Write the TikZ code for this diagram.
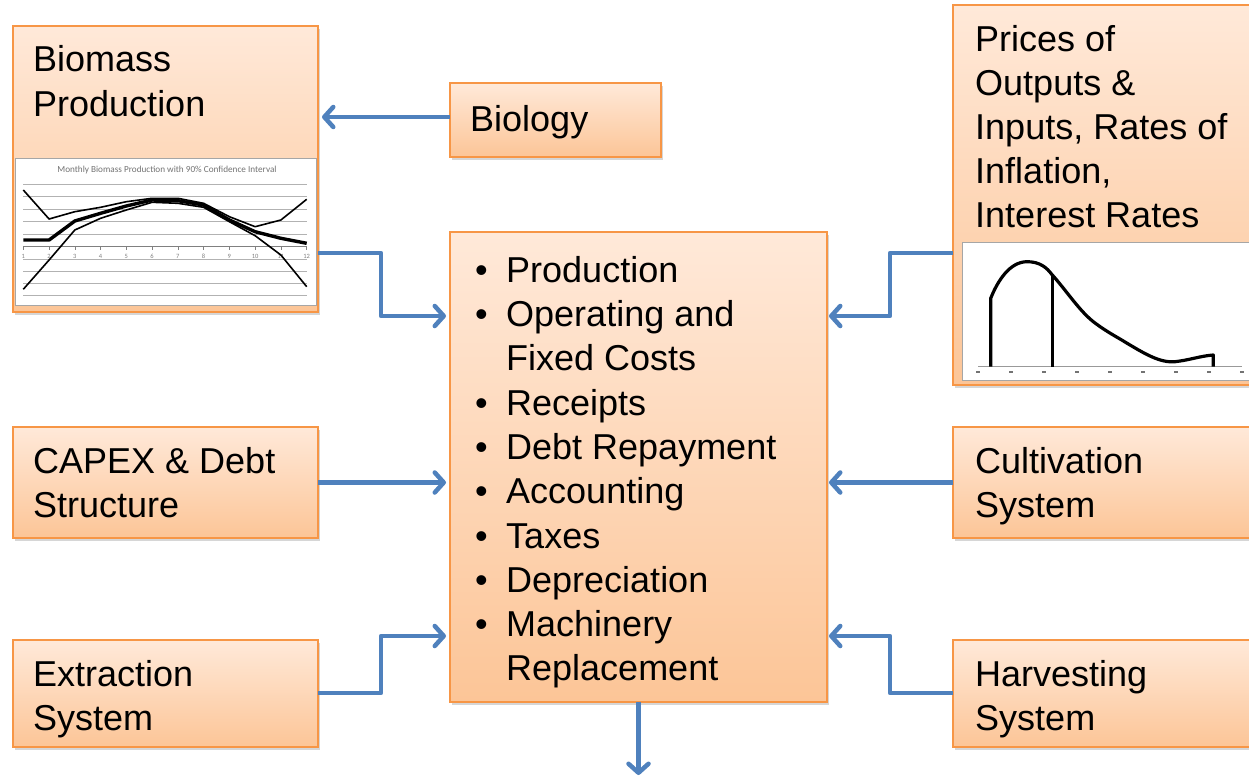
\documentclass[tikz,border=0pt]{standalone}
\usepackage{fontspec}
\setmainfont{Liberation Sans}
\newfontfamily\chartfont{Carlito}
\usetikzlibrary{arrows.meta,shadows}
\definecolor{boxtop}{HTML}{FFE9D9}
\definecolor{boxbot}{HTML}{FCC597}
\definecolor{boxline}{HTML}{F79646}
\definecolor{connc}{HTML}{4F81BD}
\begin{document}
\begin{tikzpicture}[x=1pt,y=-1pt,
  box/.style={draw=boxline,line width=1.5pt,top color=boxtop,bottom color=boxbot,
    inner sep=0pt,outer sep=0pt,
    drop shadow={shadow xshift=2pt,shadow yshift=-3pt,opacity=0.35,fill=black!45}},
  lbl/.style={anchor=base west,inner sep=0pt,font=\fontsize{36}{44}\selectfont},
  conn/.style={draw=connc,line width=4.5pt,line join=round,
    -{Straight Barb[length=9pt,width=20pt,round]}},
  grid/.style={draw=black!30,line width=0.7pt},
  tiny/.style={font=\chartfont\fontsize{6.5}{7}\selectfont,text=black!50,inner sep=0pt}
]
\useasboundingbox (0,0) rectangle (1249,779);
\fill[white] (0,0) rectangle (1249,779);

% boxes
\node[box,minimum width=305pt,minimum height=286pt] (bm) at (165.5,169) {};
\node[box,minimum width=211pt,minimum height=74pt] (bio) at (555.5,120) {};
\node[box,minimum width=312pt,minimum height=380pt] (pr) at (1109,195) {};
\node[box,minimum width=377pt,minimum height=470pt] (ctr) at (638.5,467) {};
\node[box,minimum width=305pt,minimum height=111pt] (cap) at (165.5,482.5) {};
\node[box,minimum width=312pt,minimum height=111pt] (cul) at (1109,482.5) {};
\node[box,minimum width=305pt,minimum height=107pt] (ext) at (165.5,693.5) {};
\node[box,minimum width=312pt,minimum height=107pt] (har) at (1109,693.5) {};

% biomass chart
\fill[white,draw=black!35,line width=0.8pt] (15,158) rectangle (316,305);
\node[tiny,font=\chartfont\fontsize{9.2}{10}\selectfont,text=black!55] (bmt) at (167,170) {Monthly Biomass Production with 90\% Confidence Interval};
\foreach \yy in {184.3,196.7,209.3,221.7,234,259,271,283.3,295.7}
  \draw[grid] (23.3,\yy) -- (306.7,\yy);
\draw[draw=black!50,line width=0.8pt] (23.3,246.7) -- (306.7,246.7);
\foreach \i in {1,...,12}{
  \draw[draw=black!50,line width=0.6pt] ({23.3+(\i-1)*25.76},246.7) -- ++(0,3);
  \node[tiny] at ({23.3+(\i-1)*25.76},256) {\i};
}
\draw[line width=1.6pt,line join=round] (23.3,190) -- (49.1,219) -- (74.8,211.7) -- (100.6,207.3) -- (126.3,201.7) -- (152.1,198.3) -- (177.9,198.3) -- (203.6,203.3) -- (229.4,216.7) -- (255.1,226.7) -- (280.9,220) -- (306.7,199.3);
\draw[line width=1.6pt,line join=round] (23.3,289.3) -- (49.1,260) -- (74.8,230) -- (100.6,218.3) -- (126.3,210) -- (152.1,202.3) -- (177.9,203.3) -- (203.6,207.3) -- (229.4,221.7) -- (255.1,235.7) -- (280.9,255) -- (306.7,286.7);
\draw[line width=3.4pt,line join=round] (23.3,240) -- (49.1,240) -- (74.8,221) -- (100.6,213.3) -- (126.3,206) -- (152.1,200) -- (177.9,200.7) -- (203.6,205) -- (229.4,220) -- (255.1,231.7) -- (280.9,238.3) -- (306.7,243.3);

% prices chart
\fill[white,draw=black!35,line width=0.8pt] (962,242) rectangle (1262,380);
\draw[draw=black!40,line width=0.8pt] (978.3,366.7) -- (1241.7,366.7);
\foreach \xx in {978.3,1011,1044,1076.7,1110,1142.7,1175.7,1209.3,1241.7}
  \fill[black!55] (\xx-2,371) rectangle (\xx+2,372.5);
\draw[line width=3.2pt,line join=round] (990.7,366.7) -- (990.7,298.3)
  .. controls (998,280) and (1010,262) .. (1026.7,261.7)
  .. controls (1040,261.5) and (1047,268) .. (1051.7,274.3)
  .. controls (1066,290) and (1080,312) .. (1095,323)
  .. controls (1107,332) and (1117,337) .. (1125,342)
  .. controls (1145,354) and (1160,363) .. (1175,361.7)
  .. controls (1190,360) and (1200,356) .. (1213.3,355) -- (1213.3,366.7);
\draw[line width=3.2pt] (1052.7,366.7) -- (1052.7,274.3);

% texts
\node[lbl] (t1) at (33,71) {Biomass};
\node[lbl] (t2) at (33,116) {Production};
\node[lbl] (t3) at (470,131) {Biology};
\node[lbl] (t4) at (975,51) {Prices of};
\node[lbl] (t5) at (975,95) {Outputs \&};
\node[lbl] (t6) at (975,139) {Inputs, Rates of};
\node[lbl] (t7) at (975,183) {Inflation,};
\node[lbl] (t8) at (975,227) {Interest Rates};
\node[lbl] (t9) at (33,473) {CAPEX \& Debt};
\node[lbl] (t10) at (33,517) {Structure};
\node[lbl] (t11) at (975,473) {Cultivation};
\node[lbl] (t12) at (975,517) {System};
\node[lbl] (t13) at (33,686) {Extraction};
\node[lbl] (t14) at (33,730) {System};
\node[lbl] (t15) at (975,686) {Harvesting};
\node[lbl] (t16) at (975,730) {System};

\foreach \yy/\txt/\b [count=\k] in {282/Production/1,326/Operating and/1,370/Fixed Costs/0,415/Receipts/1,459/Debt Repayment/1,503/Accounting/1,548/Taxes/1,592/Depreciation/1,636/Machinery/1,680/Replacement/0}{
  \ifnum\b=1 \node[lbl] (bul\k) at (475,\yy) {•}; \fi
  \node[lbl] (it\k) at (506,\yy) {\txt};
}

% connectors
\draw[conn,shorten >=4pt] (bio.west |- 0,117) -- (bm.east |- 0,117);
\draw[conn,shorten >=4pt] (bm.east |- 0,253) -- (381,253) -- (381,316) -- (ctr.west |- 0,316);
\draw[conn,shorten >=4pt] (cap.east) -- (ctr.west |- cap.east);
\draw[conn,shorten >=4pt] (ext.east |- 0,693) -- (381,693) -- (381,636) -- (ctr.west |- 0,636);
\draw[conn,shorten >=2pt] (pr.west |- 0,253) -- (890,253) -- (890,316) -- (ctr.east |- 0,316);
\draw[conn,shorten >=2pt] (cul.west) -- (ctr.east |- cul.west);
\draw[conn,shorten >=2pt] (har.west |- 0,693) -- (890,693) -- (890,636) -- (ctr.east |- 0,636);
\coordinate (down) at (ctr.south |- 0,775);
\draw[conn] (ctr.south) -- (down);
\end{tikzpicture}
\end{document}
